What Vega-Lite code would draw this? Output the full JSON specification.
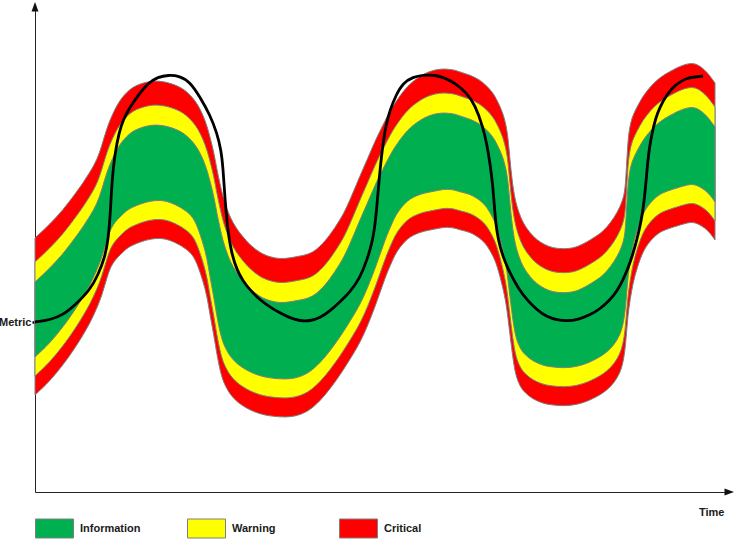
{
  "$schema": "https://vega.github.io/schema/vega-lite/v6.json",
  "width": 694,
  "height": 485,
  "autosize": {"type": "none"},
  "padding": {"left": 35, "top": 7, "right": 6, "bottom": 47},
  "background": "white",
  "config": {
    "view": {"stroke": null},
    "font": "Liberation Sans"
  },
  "layer": [
    {
      "data": {"name": "bands", "values": [
        {"t":0,"rt":254,"yt":230,"gt":210,"gb":135,"yb":116,"rb":97},
        {"t":15,"rt":268,"yt":244,"gt":224,"gb":149,"yb":130,"rb":111},
        {"t":28,"rt":282,"yt":258,"gt":238,"gb":165,"yb":146,"rb":127},
        {"t":40,"rt":298,"yt":274,"gt":254,"gb":182,"yb":163,"rb":144},
        {"t":48,"rt":309,"yt":285,"gt":265,"gb":195,"yb":176,"rb":157},
        {"t":55,"rt":320,"yt":296,"gt":276,"gb":207,"yb":188,"rb":169},
        {"t":62,"rt":332,"yt":308,"gt":288,"gb":222,"yb":203,"rb":184},
        {"t":67,"rt":347,"yt":323,"gt":303,"gb":235,"yb":216,"rb":197},
        {"t":71,"rt":361,"yt":337,"gt":317,"gb":249,"yb":230,"rb":211},
        {"t":75,"rt":372,"yt":348,"gt":328,"gb":262,"yb":243,"rb":224},
        {"t":80,"rt":383,"yt":359,"gt":339,"gb":270,"yb":251,"rb":232},
        {"t":85,"rt":392,"yt":368,"gt":348,"gb":275,"yb":256,"rb":237},
        {"t":92,"rt":400,"yt":376,"gt":356,"gb":282,"yb":263,"rb":244},
        {"t":98,"rt":405,"yt":381,"gt":361,"gb":285,"yb":266,"rb":247},
        {"t":105,"rt":408,"yt":384,"gt":364,"gb":288,"yb":269,"rb":250},
        {"t":115,"rt":411,"yt":387,"gt":367,"gb":291,"yb":272,"rb":253},
        {"t":125,"rt":411,"yt":387,"gt":367,"gb":292,"yb":273,"rb":254},
        {"t":135,"rt":409,"yt":385,"gt":365,"gb":290,"yb":271,"rb":252},
        {"t":145,"rt":405,"yt":381,"gt":361,"gb":285,"yb":266,"rb":247},
        {"t":151,"rt":401,"yt":377,"gt":357,"gb":281,"yb":262,"rb":243},
        {"t":158,"rt":394,"yt":370,"gt":350,"gb":275,"yb":256,"rb":237},
        {"t":163,"rt":387,"yt":363,"gt":343,"gb":264,"yb":245,"rb":226},
        {"t":168,"rt":377,"yt":353,"gt":333,"gb":249,"yb":230,"rb":211},
        {"t":172,"rt":366,"yt":342,"gt":322,"gb":234,"yb":215,"rb":196},
        {"t":175,"rt":355,"yt":331,"gt":311,"gb":215,"yb":196,"rb":177},
        {"t":179,"rt":339,"yt":315,"gt":295,"gb":194,"yb":175,"rb":156},
        {"t":182,"rt":322,"yt":298,"gt":278,"gb":175,"yb":156,"rb":137},
        {"t":185,"rt":308,"yt":284,"gt":264,"gb":160,"yb":141,"rb":122},
        {"t":188,"rt":295,"yt":271,"gt":251,"gb":149,"yb":130,"rb":111},
        {"t":192,"rt":283,"yt":259,"gt":239,"gb":141,"yb":122,"rb":103},
        {"t":195,"rt":275,"yt":251,"gt":231,"gb":136,"yb":117,"rb":98},
        {"t":201,"rt":264,"yt":240,"gt":220,"gb":129,"yb":110,"rb":91},
        {"t":208,"rt":255,"yt":231,"gt":211,"gb":124,"yb":105,"rb":86},
        {"t":215,"rt":247,"yt":223,"gt":203,"gb":120,"yb":101,"rb":82},
        {"t":225,"rt":239,"yt":215,"gt":195,"gb":116,"yb":97,"rb":78},
        {"t":235,"rt":235,"yt":211,"gt":191,"gb":114,"yb":95,"rb":76},
        {"t":245,"rt":233,"yt":209,"gt":189,"gb":113,"yb":94,"rb":75},
        {"t":255,"rt":234,"yt":210,"gt":190,"gb":113,"yb":94,"rb":75},
        {"t":265,"rt":236,"yt":212,"gt":192,"gb":115,"yb":96,"rb":77},
        {"t":275,"rt":238,"yt":214,"gt":194,"gb":120,"yb":101,"rb":82},
        {"t":285,"rt":245,"yt":221,"gt":201,"gb":129,"yb":110,"rb":91},
        {"t":295,"rt":257,"yt":233,"gt":213,"gb":141,"yb":122,"rb":103},
        {"t":305,"rt":272,"yt":248,"gt":228,"gb":155,"yb":136,"rb":117},
        {"t":312,"rt":285,"yt":261,"gt":241,"gb":166,"yb":147,"rb":128},
        {"t":322,"rt":309,"yt":285,"gt":265,"gb":182,"yb":163,"rb":144},
        {"t":328,"rt":323,"yt":299,"gt":279,"gb":194,"yb":175,"rb":156},
        {"t":332,"rt":332,"yt":308,"gt":288,"gb":203,"yb":184,"rb":165},
        {"t":338,"rt":346,"yt":322,"gt":302,"gb":218,"yb":199,"rb":180},
        {"t":342,"rt":355,"yt":331,"gt":311,"gb":229,"yb":210,"rb":191},
        {"t":348,"rt":367,"yt":343,"gt":323,"gb":246,"yb":227,"rb":208},
        {"t":352,"rt":375,"yt":351,"gt":331,"gb":257,"yb":238,"rb":219},
        {"t":358,"rt":386,"yt":362,"gt":342,"gb":271,"yb":252,"rb":233},
        {"t":362,"rt":392,"yt":368,"gt":348,"gb":279,"yb":260,"rb":241},
        {"t":372,"rt":406,"yt":382,"gt":362,"gb":292,"yb":273,"rb":254},
        {"t":385,"rt":416,"yt":392,"gt":372,"gb":298,"yb":279,"rb":260},
        {"t":395,"rt":421,"yt":397,"gt":377,"gb":300,"yb":281,"rb":262},
        {"t":405,"rt":423,"yt":399,"gt":379,"gb":302,"yb":283,"rb":264},
        {"t":412,"rt":423,"yt":399,"gt":379,"gb":303,"yb":284,"rb":265},
        {"t":420,"rt":422,"yt":398,"gt":378,"gb":302,"yb":283,"rb":264},
        {"t":425,"rt":420,"yt":396,"gt":376,"gb":300,"yb":281,"rb":262},
        {"t":435,"rt":417,"yt":393,"gt":373,"gb":298,"yb":279,"rb":260},
        {"t":445,"rt":412,"yt":388,"gt":368,"gb":292,"yb":273,"rb":254},
        {"t":452,"rt":406,"yt":382,"gt":362,"gb":285,"yb":266,"rb":247},
        {"t":458,"rt":399,"yt":375,"gt":355,"gb":274,"yb":255,"rb":236},
        {"t":462,"rt":392,"yt":368,"gt":348,"gb":265,"yb":246,"rb":227},
        {"t":468,"rt":379,"yt":355,"gt":335,"gb":242,"yb":223,"rb":204},
        {"t":471,"rt":367,"yt":343,"gt":323,"gb":227,"yb":208,"rb":189},
        {"t":473,"rt":355,"yt":331,"gt":311,"gb":212,"yb":193,"rb":174},
        {"t":475,"rt":332,"yt":308,"gt":288,"gb":195,"yb":176,"rb":157},
        {"t":477,"rt":312,"yt":288,"gt":268,"gb":179,"yb":160,"rb":141},
        {"t":480,"rt":292,"yt":268,"gt":248,"gb":157,"yb":138,"rb":119},
        {"t":484,"rt":279,"yt":255,"gt":235,"gb":146,"yb":127,"rb":108},
        {"t":488,"rt":269,"yt":245,"gt":225,"gb":139,"yb":120,"rb":101},
        {"t":495,"rt":259,"yt":235,"gt":215,"gb":133,"yb":114,"rb":95},
        {"t":502,"rt":252,"yt":228,"gt":208,"gb":129,"yb":110,"rb":91},
        {"t":510,"rt":247,"yt":223,"gt":203,"gb":126,"yb":107,"rb":88},
        {"t":518,"rt":244,"yt":220,"gt":200,"gb":125,"yb":106,"rb":87},
        {"t":528,"rt":243,"yt":219,"gt":199,"gb":124,"yb":105,"rb":86},
        {"t":540,"rt":244,"yt":220,"gt":200,"gb":125,"yb":106,"rb":87},
        {"t":550,"rt":249,"yt":225,"gt":205,"gb":128,"yb":109,"rb":90},
        {"t":555,"rt":252,"yt":228,"gt":208,"gb":130,"yb":111,"rb":92},
        {"t":565,"rt":258,"yt":234,"gt":214,"gb":135,"yb":116,"rb":97},
        {"t":572,"rt":265,"yt":241,"gt":221,"gb":140,"yb":121,"rb":102},
        {"t":579,"rt":274,"yt":250,"gt":230,"gb":147,"yb":128,"rb":109},
        {"t":585,"rt":285,"yt":261,"gt":241,"gb":157,"yb":138,"rb":119},
        {"t":588,"rt":293,"yt":269,"gt":249,"gb":167,"yb":148,"rb":129},
        {"t":590,"rt":302,"yt":278,"gt":258,"gb":180,"yb":161,"rb":142},
        {"t":591,"rt":317,"yt":293,"gt":273,"gb":191,"yb":172,"rb":153},
        {"t":592,"rt":334,"yt":310,"gt":290,"gb":203,"yb":184,"rb":165},
        {"t":593,"rt":352,"yt":328,"gt":308,"gb":215,"yb":196,"rb":177},
        {"t":595,"rt":367,"yt":343,"gt":323,"gb":230,"yb":211,"rb":192},
        {"t":598,"rt":377,"yt":353,"gt":333,"gb":247,"yb":228,"rb":209},
        {"t":602,"rt":385,"yt":361,"gt":341,"gb":262,"yb":243,"rb":224},
        {"t":608,"rt":396,"yt":372,"gt":352,"gb":279,"yb":260,"rb":241},
        {"t":615,"rt":405,"yt":381,"gt":361,"gb":289,"yb":270,"rb":251},
        {"t":623,"rt":413,"yt":389,"gt":369,"gb":297,"yb":278,"rb":259},
        {"t":632,"rt":419,"yt":395,"gt":375,"gb":301,"yb":282,"rb":263},
        {"t":645,"rt":426,"yt":402,"gt":382,"gb":305,"yb":286,"rb":267},
        {"t":655,"rt":429,"yt":405,"gt":385,"gb":308,"yb":289,"rb":270},
        {"t":662,"rt":428,"yt":404,"gt":384,"gb":307,"yb":288,"rb":269},
        {"t":670,"rt":422,"yt":398,"gt":378,"gb":302,"yb":283,"rb":264},
        {"t":675,"rt":416,"yt":392,"gt":372,"gb":297,"yb":278,"rb":259},
        {"t":680,"rt":409,"yt":385,"gt":365,"gb":290,"yb":271,"rb":252}
      ]},
      "layer": [
        {
          "mark": {"type": "area", "interpolate": "basis", "stroke": "#7f7f7f", "strokeWidth": 1, "opacity": 1},
          "encoding": {
            "x": {"field": "t", "type": "quantitative", "scale": {"domain": [0, 694], "nice": false, "zero": false},
              "axis": {"title": "Time", "ticks": false, "labels": false, "grid": false, "domainColor": "#222", "domainWidth": 1, "titleFont": "Liberation Sans", "titleFontSize": 11, "titleFontWeight": "bold", "titleColor": "#1a1a1a", "titleX": 689, "titleY": 23, "titleAlign": "right", "titleBaseline": "alphabetic", "titleAnchor": null}},
            "y": {"field": "rt", "type": "quantitative", "scale": {"domain": [0, 485], "nice": false, "zero": false},
              "axis": {"title": null, "values": [170], "labelExpr": "'Metric'", "grid": false, "domainColor": "#222", "domainWidth": 1, "tickSize": 3, "tickWidth": 2.5, "tickColor": "#000", "labelPadding": 1, "labelFont": "Liberation Sans", "labelFontSize": 11, "labelFontWeight": "bold", "labelColor": "#1a1a1a"}},
            "y2": {"field": "rb"},
            "color": {"datum": "Critical", "type": "nominal",
              "scale": {"domain": ["Information", "Warning", "Critical"], "range": ["#00b050", "#ffff00", "#ff0000"]},
              "legend": {"title": null, "orient": "none", "legendX": 0, "legendY": 502, "direction": "horizontal", "columns": 3, "gridAlign": "all", "columnPadding": 44, "symbolType": "M-1,-0.5H1V0.5H-1Z", "symbolSize": 1444, "symbolStrokeColor": "#333", "symbolStrokeWidth": 1, "symbolOpacity": 1, "labelFont": "Liberation Sans", "labelFontSize": 11, "labelFontWeight": "bold", "labelColor": "#1a1a1a", "labelOffset": 6, "padding": 0}}
          }
        },
        {
          "mark": {"type": "area", "interpolate": "basis", "stroke": "#7f7f7f", "strokeWidth": 1, "opacity": 1},
          "encoding": {
            "x": {"field": "t", "type": "quantitative"},
            "y": {"field": "yt", "type": "quantitative"},
            "y2": {"field": "yb"},
            "color": {"datum": "Warning", "type": "nominal"}
          }
        },
        {
          "mark": {"type": "area", "interpolate": "basis", "stroke": "#7f7f7f", "strokeWidth": 1, "opacity": 1},
          "encoding": {
            "x": {"field": "t", "type": "quantitative"},
            "y": {"field": "gt", "type": "quantitative"},
            "y2": {"field": "gb"},
            "color": {"datum": "Information", "type": "nominal"}
          }
        }
      ]
    },
    {
      "data": {"values": [
        {"t":0,"v":170},{"t":15,"v":172},{"t":28,"v":177},{"t":40,"v":187},{"t":55,"v":202},{"t":63,"v":217},
        {"t":70,"v":235},{"t":73,"v":252},{"t":75,"v":272},{"t":77,"v":312},{"t":80,"v":339},{"t":84,"v":359},
        {"t":88,"v":372},{"t":95,"v":385},{"t":102,"v":395},{"t":113,"v":409},{"t":123,"v":415},{"t":133,"v":417},
        {"t":145,"v":416},{"t":155,"v":410},{"t":165,"v":395},{"t":175,"v":377},{"t":182,"v":359},{"t":186,"v":342},
        {"t":188,"v":325},{"t":190,"v":292},{"t":193,"v":259},{"t":197,"v":237},{"t":202,"v":222},{"t":208,"v":211},
        {"t":215,"v":202},{"t":225,"v":192},{"t":235,"v":185},{"t":245,"v":179},{"t":255,"v":174},{"t":265,"v":171},
        {"t":275,"v":171},{"t":285,"v":174},{"t":295,"v":181},{"t":305,"v":190},{"t":315,"v":200},{"t":325,"v":214},
        {"t":332,"v":232},{"t":337,"v":249},{"t":340,"v":265},{"t":343,"v":299},{"t":345,"v":322},{"t":348,"v":349},
        {"t":351,"v":367},{"t":355,"v":382},{"t":361,"v":397},{"t":368,"v":409},{"t":378,"v":415},{"t":388,"v":417},
        {"t":400,"v":417},{"t":410,"v":414},{"t":420,"v":409},{"t":432,"v":399},{"t":440,"v":387},{"t":448,"v":365},
        {"t":452,"v":347},{"t":455,"v":329},{"t":458,"v":305},{"t":460,"v":277},{"t":462,"v":259},{"t":465,"v":245},
        {"t":470,"v":230},{"t":475,"v":219},{"t":483,"v":204},{"t":492,"v":192},{"t":502,"v":182},{"t":512,"v":175},
        {"t":522,"v":172},{"t":532,"v":171},{"t":542,"v":172},{"t":555,"v":177},{"t":565,"v":183},{"t":575,"v":192},
        {"t":582,"v":201},{"t":588,"v":212},{"t":593,"v":224},{"t":597,"v":235},{"t":601,"v":249},{"t":605,"v":265},
        {"t":608,"v":282},{"t":610,"v":299},{"t":612,"v":322},{"t":614,"v":342},{"t":617,"v":359},{"t":621,"v":375},
        {"t":625,"v":385},{"t":631,"v":396},{"t":638,"v":405},{"t":645,"v":410},{"t":652,"v":414},{"t":660,"v":415},
        {"t":668,"v":416}
      ]},
      "mark": {"type": "line", "interpolate": "basis", "color": "#000", "strokeWidth": 2.8},
      "encoding": {
        "x": {"field": "t", "type": "quantitative"},
        "y": {"field": "v", "type": "quantitative"}
      }
    },
    {
      "data": {"values": [{"t": 0, "v": 485}]},
      "mark": {"type": "point", "shape": "M0,-1L0.7,0.9L-0.7,0.9Z", "size": 100, "filled": true, "color": "#111", "opacity": 1, "strokeWidth": 0},
      "encoding": {
        "x": {"field": "t", "type": "quantitative"},
        "y": {"field": "v", "type": "quantitative"}
      }
    },
    {
      "data": {"values": [{"t": 694, "v": 0}]},
      "mark": {"type": "point", "shape": "M1,0L-0.9,0.7L-0.9,-0.7Z", "size": 100, "filled": true, "color": "#111", "opacity": 1, "strokeWidth": 0},
      "encoding": {
        "x": {"field": "t", "type": "quantitative"},
        "y": {"field": "v", "type": "quantitative"}
      }
    }
  ]
}
